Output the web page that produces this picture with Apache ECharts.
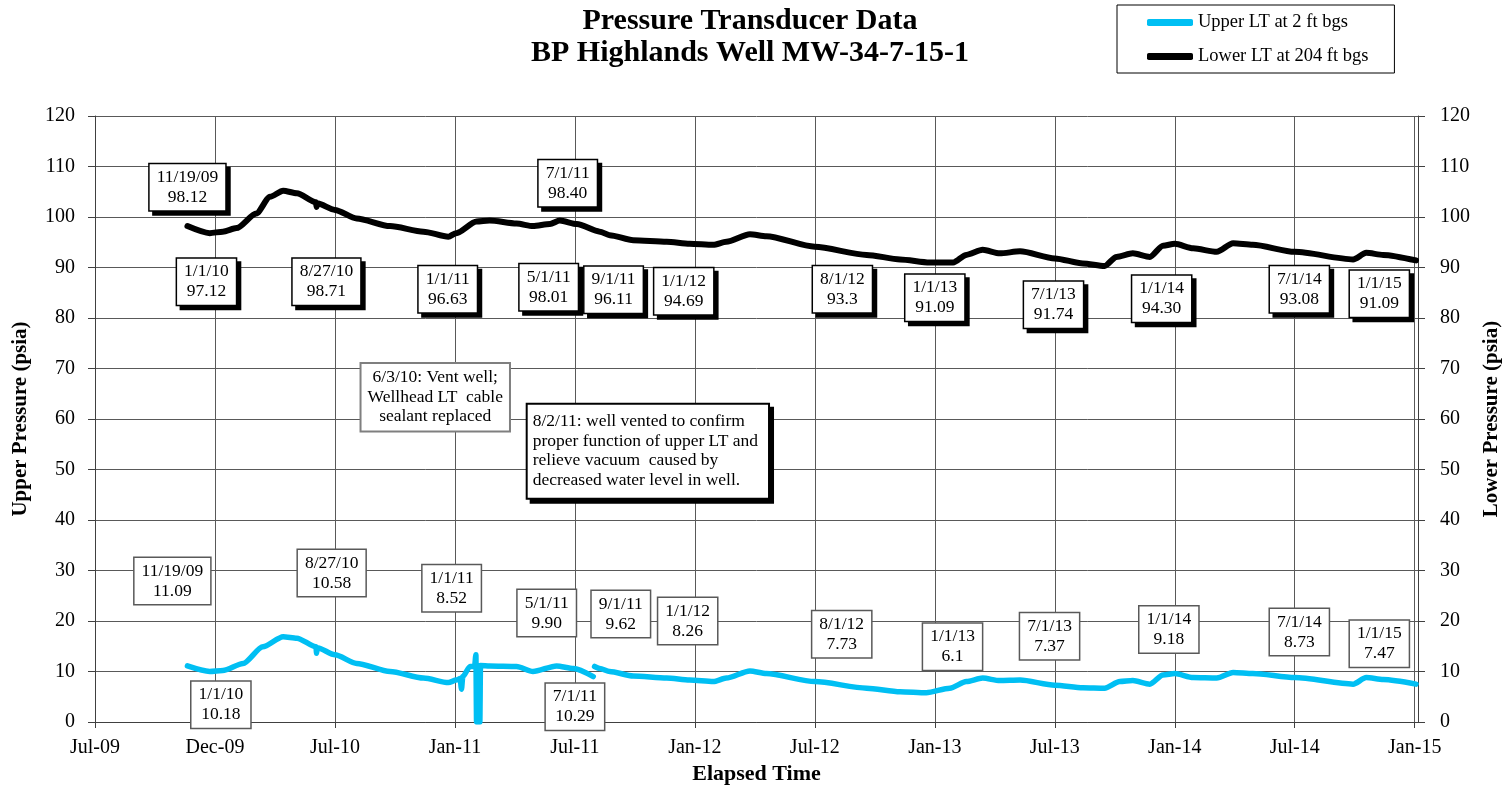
<!DOCTYPE html>
<html><head><meta charset="utf-8">
<script src="https://cdn.jsdelivr.net/npm/echarts@6/dist/echarts.min.js"></script>
<style>html,body{margin:0;padding:0;background:#fff}#c{width:1507px;height:786px}</style>
</head><body><div id="c"></div>
<script>
// ---------- data ----------
const monthNames = ['Jan','Feb','Mar','Apr','May','Jun','Jul','Aug','Sep','Oct','Nov','Dec'];
const axisStart = '2009-07-01';
const axisEnd = '2015-01-09';
const tickDays = 183;
const yTicks = [0,10,20,30,40,50,60,70,80,90,100,110,120];

const upperDates = ['2009-11-19','2009-12-23','2010-01-12','2010-02-12','2010-03-14','2010-04-14','2010-05-05','2010-06-03','2010-06-04','2010-06-05','2010-07-02','2010-08-04','2010-09-24','2010-11-14','2010-12-22','2011-01-03','2011-01-09','2011-01-11','2011-01-13','2011-01-24','2011-01-31','2011-02-02','2011-02-03','2011-02-08','2011-02-09','2011-02-23','2011-04-05','2011-04-30','2011-06-05','2011-07-01','2011-07-31','2011-08-01','2011-08-02','2011-08-10','2011-08-25','2011-09-30','2011-11-20','2011-12-25','2012-01-30','2012-02-19','2012-03-26','2012-04-20','2012-07-03','2012-09-20','2012-11-10','2012-12-20','2013-01-25','2013-02-19','2013-03-16','2013-04-11','2013-05-12','2013-07-04','2013-08-16','2013-09-18','2013-10-11','2013-10-31','2013-11-26','2013-12-16','2014-01-03','2014-01-31','2014-03-08','2014-04-02','2014-05-02','2014-07-05','2014-10-02','2014-10-22','2014-11-17','2015-01-06'];
const upperValues = [11.1,10.0,10.2,11.6,14.9,16.9,16.6,14.9,13.6,14.7,13.3,11.6,10.0,8.7,7.8,8.3,8.6,6.5,9.0,11.0,11.0,13.3,0,0,11.2,11.1,11.0,10.0,11.1,10.6,9.0,null,11.0,10.6,10.0,9.1,8.7,8.3,8.0,8.7,10.1,9.6,8.0,6.7,6.0,5.8,6.7,8.0,8.7,8.2,8.3,7.3,6.8,6.7,8.0,8.2,7.5,9.3,9.6,8.8,8.7,9.8,9.6,8.8,7.5,8.8,8.4,7.5];

const lowerDates = ['2009-11-19','2009-12-23','2010-01-12','2010-02-02','2010-03-04','2010-03-25','2010-04-14','2010-05-05','2010-06-03','2010-06-04','2010-06-05','2010-07-02','2010-08-04','2010-09-24','2010-11-14','2010-12-22','2011-01-03','2011-02-03','2011-02-23','2011-04-05','2011-04-30','2011-05-26','2011-06-10','2011-07-06','2011-08-10','2011-08-25','2011-09-30','2011-11-20','2011-12-25','2012-01-30','2012-02-19','2012-03-26','2012-04-20','2012-07-03','2012-09-20','2012-11-10','2012-12-25','2013-01-30','2013-02-19','2013-03-16','2013-04-11','2013-05-12','2013-07-04','2013-08-16','2013-09-18','2013-10-06','2013-10-31','2013-11-26','2013-12-16','2014-01-03','2014-01-31','2014-03-08','2014-04-02','2014-05-02','2014-07-05','2014-10-02','2014-10-22','2014-11-17','2015-01-06'];
const lowerValues = [98.2,96.8,97.1,97.8,100.7,104.0,105.2,104.7,102.9,102.0,102.7,101.4,99.7,98.2,97.1,96.1,96.8,99.1,99.3,98.7,98.2,98.6,99.3,98.6,97.1,96.4,95.4,95.1,94.7,94.5,95.1,96.6,96.2,94.1,92.5,91.6,91.0,91.0,92.5,93.5,92.8,93.2,91.8,90.8,90.3,92.1,92.8,92.1,94.3,94.7,93.8,93.1,94.8,94.5,93.1,91.6,92.9,92.5,91.4];

const lowerNoteTexts = ['11/19/09\n98.12','1/1/10\n97.12','8/27/10\n98.71','1/1/11\n96.63','7/1/11\n98.40','5/1/11\n98.01','9/1/11\n96.11','1/1/12\n94.69','8/1/12\n93.3','1/1/13\n91.09','7/1/13\n91.74','1/1/14\n94.30','7/1/14\n93.08','1/1/15\n91.09'];
const upperNoteTexts = ['11/19/09\n11.09','1/1/10\n10.18','8/27/10\n10.58','1/1/11\n8.52','5/1/11\n9.90','7/1/11\n10.29','9/1/11\n9.62','1/1/12\n8.26','8/1/12\n7.73','1/1/13\n6.1','7/1/13\n7.37','1/1/14\n9.18','7/1/14\n8.73','1/1/15\n7.47'];
const ventNoteText = '6/3/10: Vent well;\nWellhead LT  cable\nsealant replaced';
const vacuumNoteText = '8/2/11: well vented to confirm\nproper function of upper LT and\nrelieve vacuum  caused by\ndecreased water level in well.';

// ---------- layout (annotation anchors in data coordinates) ----------
const lowerNoteAnchors = [['2009-11-19',105.9],['2009-12-18',87.2],['2010-06-19',87.2],['2010-12-21',85.7],['2011-06-22',106.7],['2011-05-24',86.1],['2011-08-31',85.6],['2011-12-16',85.3],['2012-08-14',85.7],['2013-01-02',84.0],['2013-07-02',82.6],['2013-12-14',83.8],['2014-07-12',85.7],['2014-11-11',84.8]];
const upperNoteAnchors = [['2009-10-27',27.9],['2010-01-09',3.4],['2010-06-27',29.5],['2010-12-27',26.5],['2011-05-21',21.6],['2011-07-03',3.0],['2011-09-11',21.4],['2011-12-22',20.0],['2012-08-13',17.4],['2013-01-29',14.9],['2013-06-26',17.0],['2013-12-25',18.3],['2014-07-12',17.8],['2014-11-11',15.5]];
const ventNoteAnchor = ['2010-12-02',64.3];
const vacuumNoteAnchor = ['2011-04-22',62.8];

const DAY = 86400000;
function ts(s){ const p = s.split('-'); return Date.UTC(+p[0], +p[1]-1, +p[2]); }
function pairs(dates, vals){ return dates.map((d,i)=>[ts(d), vals[i]===null ? '-' : vals[i]]); }

const SERIF = '"Liberation Serif", "Times New Roman", serif';
const GRID_C = '#595959';
const AXIS_C = '#404040';

const chart = echarts.init(document.getElementById('c'));
const yAxisBase = {
  type:'value', min: yTicks[0], max: yTicks[yTicks.length-1], interval: yTicks[1]-yTicks[0],
  axisLine:{show:true, lineStyle:{color:AXIS_C, width:1}},
  axisTick:{show:true, length:7, lineStyle:{color:AXIS_C}},
  axisLabel:{fontFamily:SERIF, fontSize:20, color:'#000', margin:20},
  nameLocation:'middle',
  nameTextStyle:{fontFamily:SERIF, fontSize:21, fontWeight:'bold', color:'#000'}
};
const option = {
  animation:false,
  backgroundColor:'#fff',
  title:{
    text:'Pressure Transducer Data\nBP Highlands Well MW-34-7-15-1',
    left:745, top:0, textAlign:'center',
    textStyle:{fontFamily:SERIF, fontSize:30, fontWeight:'bold', color:'#000', lineHeight:32}
  },
  legend:{
    orient:'vertical', left:1117, top:5,
    padding:[8,26,7,30], itemGap:15, itemWidth:46, itemHeight:7,
    borderColor:'#000', borderWidth:1, backgroundColor:'#fff',
    icon:'roundRect',
    textStyle:{fontFamily:SERIF, fontSize:18.5, color:'#000'},
    data:['Upper LT at 2 ft bgs','Lower LT at 204 ft bgs']
  },
  grid:{left:95, right:89, top:116, bottom:64, containLabel:false, outerBoundsMode:'none'},
  xAxis:{
    type:'value', min: ts(axisStart), max: ts(axisEnd), interval: tickDays*DAY,
    axisLine:{show:true, onZero:false, lineStyle:{color:AXIS_C, width:1}},
    axisTick:{show:true, length:6, lineStyle:{color:AXIS_C}},
    splitLine:{show:true, lineStyle:{color:GRID_C, width:1}},
    axisLabel:{fontFamily:SERIF, fontSize:20, color:'#000', margin:16, showMaxLabel:false,
      formatter:function(v){ const d=new Date(v); return monthNames[d.getUTCMonth()]+'-'+String(d.getUTCFullYear()).slice(2); }},
    name:'Elapsed Time', nameLocation:'middle', nameGap:39,
    nameTextStyle:{fontFamily:SERIF, fontSize:22, fontWeight:'bold', color:'#000'}
  },
  yAxis:[
    Object.assign({}, yAxisBase, {position:'left', name:'Upper Pressure (psia)', nameGap:64,
      splitLine:{show:true, lineStyle:{color:GRID_C, width:1}}}),
    Object.assign({}, yAxisBase, {position:'right', name:'Lower Pressure (psia)', nameGap:62,
      axisLabel:Object.assign({}, yAxisBase.axisLabel, {margin:22}),
      splitLine:{show:false}})
  ],
  series:[
    {name:'Upper LT at 2 ft bgs', type:'line', yAxisIndex:0, data:pairs(upperDates, upperValues),
      showSymbol:false, smooth:0.25, smoothMonotone:'x', connectNulls:false, color:'#00BFF3',
      lineStyle:{color:'#00BFF3', width:5.5, cap:'round', join:'round'}, z:3},
    {name:'Lower LT at 204 ft bgs', type:'line', yAxisIndex:1, data:pairs(lowerDates, lowerValues),
      showSymbol:false, smooth:0.25, smoothMonotone:'x', color:'#000',
      lineStyle:{color:'#000', width:6, cap:'round', join:'round'}, z:3}
  ]
};
chart.setOption(option);

function toPx(a){ return chart.convertToPixel({xAxisIndex:0, yAxisIndex:0}, [ts(a[0]), a[1]]); }
const FONT = '17.5px ' + SERIF;
const graphics = [];
lowerNoteTexts.forEach((t,i)=>{
  const p = toPx(lowerNoteAnchors[i]);
  graphics.push({type:'text', x:p[0], y:p[1], z:100, style:{text:t, font:FONT, fill:'#000',
    align:'center', verticalAlign:'middle', lineHeight:20, backgroundColor:'#fff',
    borderColor:'#000', borderWidth:1.5, padding:[3,7],
    shadowColor:'#000', shadowOffsetX:4, shadowOffsetY:4, shadowBlur:0}});
});
upperNoteTexts.forEach((t,i)=>{
  const p = toPx(upperNoteAnchors[i]);
  graphics.push({type:'text', x:p[0], y:p[1], z:100, style:{text:t, font:FONT, fill:'#000',
    align:'center', verticalAlign:'middle', lineHeight:20, backgroundColor:'#fff',
    borderColor:'#595959', borderWidth:1.5, padding:[3,7]}});
});
(function(){
  const p = toPx(ventNoteAnchor);
  graphics.push({type:'text', x:p[0], y:p[1], z:100, style:{text:ventNoteText, font:FONT, fill:'#000',
    align:'center', verticalAlign:'middle', lineHeight:19.5, backgroundColor:'#fff',
    borderColor:'#7f7f7f', borderWidth:2, padding:[4,6]}});
  const q = toPx(vacuumNoteAnchor);
  graphics.push({type:'text', x:q[0], y:q[1], z:100, style:{text:vacuumNoteText, font:FONT, fill:'#000',
    align:'left', verticalAlign:'top', lineHeight:19.5, backgroundColor:'#fff',
    borderColor:'#000', borderWidth:2, padding:[7,10,8,5],
    shadowColor:'#000', shadowOffsetX:4, shadowOffsetY:4, shadowBlur:0}});
})();
chart.setOption({graphic:graphics});
</script>
</body></html>
